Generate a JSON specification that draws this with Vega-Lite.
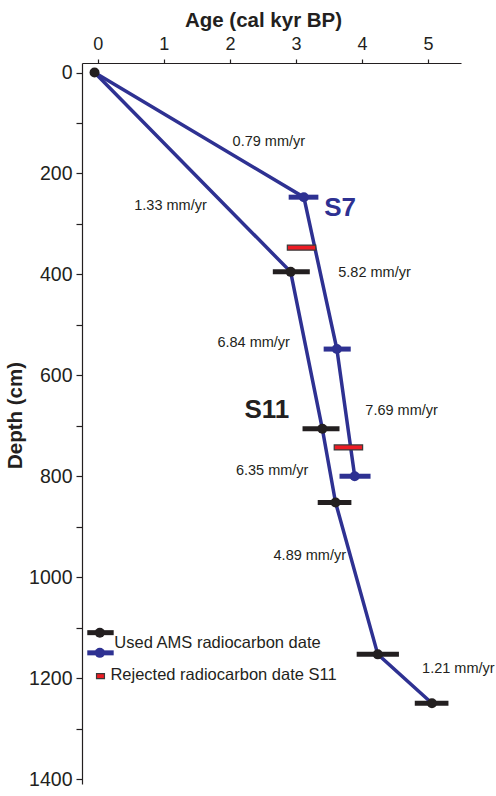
{
  "$schema": "https://vega.github.io/schema/vega-lite/v6.json",
  "width": 379,
  "height": 721,
  "autosize": {"type": "none"},
  "padding": {"left": 82, "top": 63, "right": 35, "bottom": 12},
  "background": "white",
  "config": {
    "view": {"stroke": null},
    "font": "Liberation Sans",
    "axis": {"grid": false, "domainColor": "#231f20", "tickColor": "#231f20", "labelColor": "#231f20", "titleColor": "#231f20", "labelFont": "Liberation Sans", "titleFont": "Liberation Sans", "domainWidth": 1.2, "tickWidth": 1.2}
  },
  "datasets": {
    "lines": [
      {"core": "S11", "i": 0, "age": -0.05, "depth": 0},
      {"core": "S11", "i": 1, "age": 2.92, "depth": 395},
      {"core": "S11", "i": 2, "age": 3.40, "depth": 706},
      {"core": "S11", "i": 3, "age": 3.60, "depth": 852},
      {"core": "S11", "i": 4, "age": 4.24, "depth": 1153},
      {"core": "S11", "i": 5, "age": 5.06, "depth": 1250},
      {"core": "S7", "i": 0, "age": -0.05, "depth": 0},
      {"core": "S7", "i": 1, "age": 3.12, "depth": 247},
      {"core": "S7", "i": 2, "age": 3.62, "depth": 548},
      {"core": "S7", "i": 3, "age": 3.89, "depth": 800}
    ],
    "dates": [
      {"core": "S11", "age": -0.05, "depth": 0, "lo": null, "hi": null},
      {"core": "S11", "age": 2.92, "depth": 395, "lo": 2.65, "hi": 3.21},
      {"core": "S11", "age": 3.40, "depth": 706, "lo": 3.10, "hi": 3.66},
      {"core": "S11", "age": 3.60, "depth": 852, "lo": 3.33, "hi": 3.84},
      {"core": "S11", "age": 4.24, "depth": 1153, "lo": 3.92, "hi": 4.56},
      {"core": "S11", "age": 5.06, "depth": 1250, "lo": 4.80, "hi": 5.31},
      {"core": "S7", "age": 3.12, "depth": 247, "lo": 2.89, "hi": 3.34},
      {"core": "S7", "age": 3.62, "depth": 548, "lo": 3.42, "hi": 3.83},
      {"core": "S7", "age": 3.89, "depth": 800, "lo": 3.66, "hi": 4.13},
      {"core": "S11", "age": 0.03, "depth": 1110, "lo": -0.16, "hi": 0.24},
      {"core": "S7", "age": 0.03, "depth": 1150, "lo": -0.16, "hi": 0.24}
    ],
    "rejected": [
      {"lo": 2.87, "hi": 3.30, "depth": 347},
      {"lo": 3.58, "hi": 4.01, "depth": 743},
      {"lo": -0.02, "hi": 0.10, "depth": 1196}
    ],
    "labels": [
      {"kind": "rate", "text": "0.79 mm/yr", "age": 2.59, "depth": 138},
      {"kind": "rate", "text": "1.33 mm/yr", "age": 1.10, "depth": 264},
      {"kind": "rate", "text": "5.82 mm/yr", "age": 4.19, "depth": 398},
      {"kind": "rate", "text": "6.84 mm/yr", "age": 2.36, "depth": 535},
      {"kind": "rate", "text": "7.69 mm/yr", "age": 4.60, "depth": 670},
      {"kind": "rate", "text": "6.35 mm/yr", "age": 2.64, "depth": 789},
      {"kind": "rate", "text": "4.89 mm/yr", "age": 3.21, "depth": 958},
      {"kind": "rate", "text": "1.21 mm/yr", "age": 5.46, "depth": 1182},
      {"kind": "core", "core": "S7", "text": "S7", "age": 3.67, "depth": 268},
      {"kind": "core", "core": "S11", "text": "S11", "age": 2.56, "depth": 669},
      {"kind": "legend", "text": "Used AMS radiocarbon date", "age": 0.25, "depth": 1131},
      {"kind": "legend", "text": "Rejected radiocarbon date S11", "age": 0.19, "depth": 1194}
    ]
  },
  "encoding": {
    "x": {"field": "age", "type": "quantitative", "scale": {"domain": [-0.24, 5.5], "nice": false, "zero": false},
      "axis": {"orient": "top", "title": "Age (cal kyr BP)", "values": [0, 0.5, 1, 1.5, 2, 2.5, 3, 3.5, 4, 4.5, 5, 5.5], "format": "d",
        "labelExpr": "datum.value % 1 === 0 ? datum.value : ''", "labelFontSize": 18, "labelPadding": 6, "tickSize": 4,
        "titleFontSize": 20.5, "titleFontWeight": "bold", "titlePadding": 5, "titleX": 181, "labelFlush": false}},
    "y": {"field": "depth", "type": "quantitative", "scale": {"domain": [-9, 1400], "reverse": true, "nice": false, "zero": false},
      "axis": {"orient": "left", "title": "Depth (cm)", "values": [0, 100, 200, 300, 400, 500, 600, 700, 800, 900, 1000, 1100, 1200, 1300, 1400],
        "labelExpr": "datum.value % 200 === 0 ? datum.value : ''", "labelFontSize": 19.5, "labelPadding": 4, "tickSize": 6,
        "titleFontSize": 20.5, "titleFontWeight": "bold", "titlePadding": 3, "titleY": 352, "labelFlush": false, "format": "d"}}
  },
  "layer": [
    {
      "data": {"name": "lines"},
      "mark": {"type": "line", "color": "#2E3192", "strokeWidth": 3.5},
      "encoding": {"detail": {"field": "core"}, "order": {"field": "i", "type": "quantitative"}}
    },
    {
      "data": {"name": "dates"},
      "transform": [{"filter": "datum.lo != null"}],
      "mark": {"type": "rule", "strokeWidth": 5},
      "encoding": {
        "x": {"field": "lo", "type": "quantitative"},
        "x2": {"field": "hi"},
        "color": {"field": "core", "type": "nominal", "scale": {"domain": ["S11", "S7"], "range": ["#231f20", "#2E3192"]}, "legend": null}
      }
    },
    {
      "data": {"name": "rejected"},
      "mark": {"type": "bar", "height": 5, "fill": "#ed1c24", "stroke": "#3a3a3a", "strokeWidth": 1.2},
      "encoding": {
        "x": {"field": "lo", "type": "quantitative"},
        "x2": {"field": "hi"}
      }
    },
    {
      "data": {"name": "dates"},
      "mark": {"type": "circle", "size": 100, "opacity": 1},
      "encoding": {
        "color": {"field": "core", "type": "nominal", "scale": {"domain": ["S11", "S7"], "range": ["#231f20", "#2E3192"]}, "legend": null}
      }
    },
    {
      "data": {"name": "labels"},
      "transform": [{"filter": "datum.kind === 'rate'"}],
      "mark": {"type": "text", "fontSize": 14.5, "align": "center", "baseline": "middle", "color": "#231f20"},
      "encoding": {"text": {"field": "text"}}
    },
    {
      "data": {"name": "labels"},
      "transform": [{"filter": "datum.kind === 'core'"}],
      "mark": {"type": "text", "fontSize": 26, "fontWeight": "bold", "align": "center", "baseline": "middle"},
      "encoding": {
        "text": {"field": "text"},
        "color": {"field": "core", "type": "nominal", "scale": {"domain": ["S11", "S7"], "range": ["#231f20", "#2E3192"]}, "legend": null}
      }
    },
    {
      "data": {"name": "labels"},
      "transform": [{"filter": "datum.kind === 'legend'"}],
      "mark": {"type": "text", "fontSize": 16.5, "align": "left", "baseline": "middle", "color": "#231f20"},
      "encoding": {"text": {"field": "text"}}
    }
  ]
}
